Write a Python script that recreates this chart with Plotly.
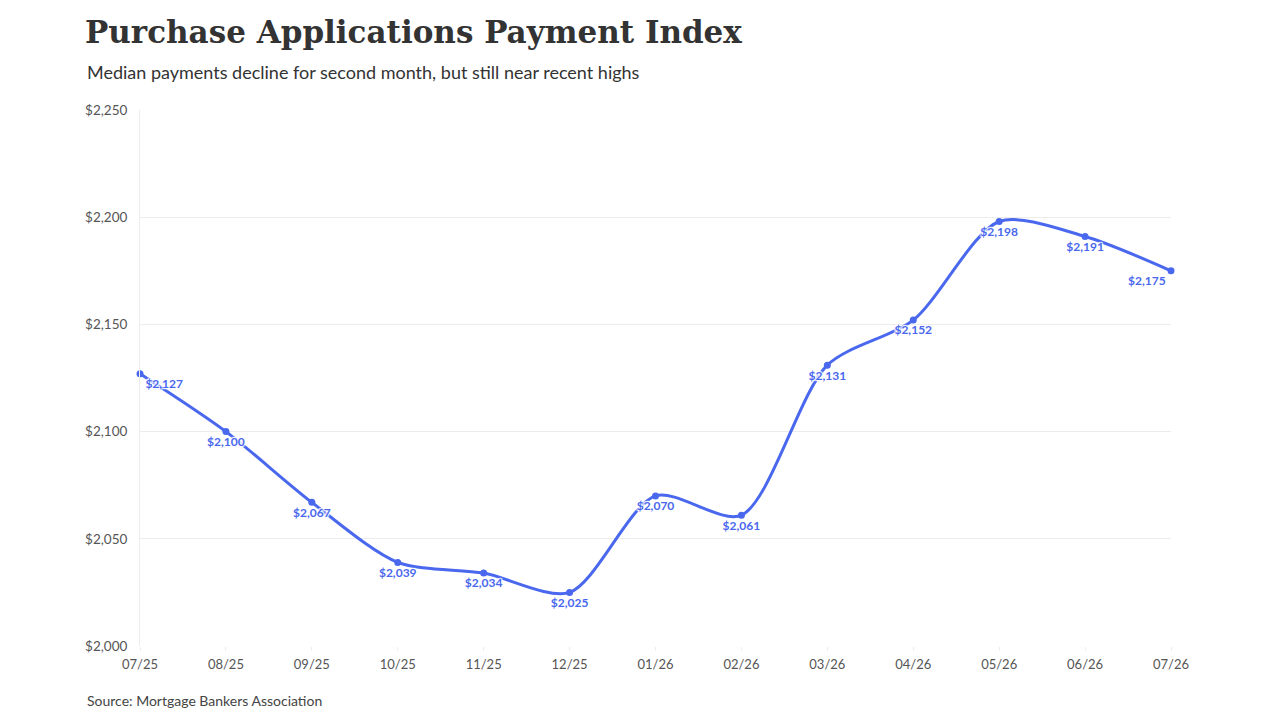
import plotly.graph_objects as go

months = ["07/25", "08/25", "09/25", "10/25", "11/25", "12/25", "01/26",
          "02/26", "03/26", "04/26", "05/26", "06/26", "07/26"]
payments = [2127, 2100, 2067, 2039, 2034, 2025, 2070, 2061, 2131, 2152, 2198, 2191, 2175]
y_ticks = [2000, 2050, 2100, 2150, 2200, 2250]

blue = "#4a68ee"

# first label sits to the right of its point, last one to the left
positions = ["bottom center"] * len(months)
positions[0] = "bottom right"
positions[-1] = "bottom left"

halo = "1px 1px 1px #fff, -1px -1px 1px #fff, 1px -1px 1px #fff, -1px 1px 1px #fff"

fig = go.Figure(go.Scatter(
    x=months, y=payments,
    mode="lines+markers+text",
    line=dict(color=blue, width=3, shape="spline", smoothing=0.8),
    marker=dict(color=blue, size=7),
    text=["$" + format(v, ",") for v in payments],
    textposition=positions,
    textfont=dict(family="Lato", size=12, color=blue, weight="bold", shadow=halo),
    cliponaxis=False,
))

# the page adds an 8px body margin, so the figure is 8px smaller and shifted
fig.update_layout(
    width=1272, height=712,
    margin=dict(l=132, r=109, t=102, b=74),
    paper_bgcolor="white", plot_bgcolor="white",
    font=dict(family="Lato", color="#555"),
    showlegend=False,
    title=dict(
        text="<b>Purchase Applications Payment Index</b>",
        xref="container", x=77 / 1272, xanchor="left",
        yref="container", y=1 - 24 / 712, yanchor="middle",
        font=dict(family="DejaVu Serif", size=31, color="#333"),
    ),
)

fig.add_annotation(text="Median payments decline for second month, but still near recent highs",
                   xref="paper", yref="paper", x=-55 / 1031, y=1 + 38 / 536,
                   xanchor="left", yanchor="middle", showarrow=False,
                   font=dict(family="Lato", size=18, color="#333"))
fig.add_annotation(text="Source: Mortgage Bankers Association",
                   xref="paper", yref="paper", x=-55 / 1031, y=-54 / 536,
                   xanchor="left", yanchor="middle", showarrow=False,
                   font=dict(family="Lato", size=14, color="#444"))

fig.update_xaxes(showgrid=False, zeroline=False, showline=False,
                 tickfont=dict(size=13, color="#555"),
                 ticks="outside", ticklen=4, tickcolor="#eeeeee",
                 ticklabelstandoff=2, range=[0, len(months) - 1])
fig.update_yaxes(range=[2000, 2250], tickvals=y_ticks,
                 ticktext=["$" + format(v, ",") for v in y_ticks],
                 showgrid=True, gridcolor="#ececec", zeroline=False,
                 showline=True, linecolor="#ececec", linewidth=1,
                 tickfont=dict(size=13.5, color="#555"), ticks="",
                 ticklabelstandoff=9)

fig.write_html("out.html")
